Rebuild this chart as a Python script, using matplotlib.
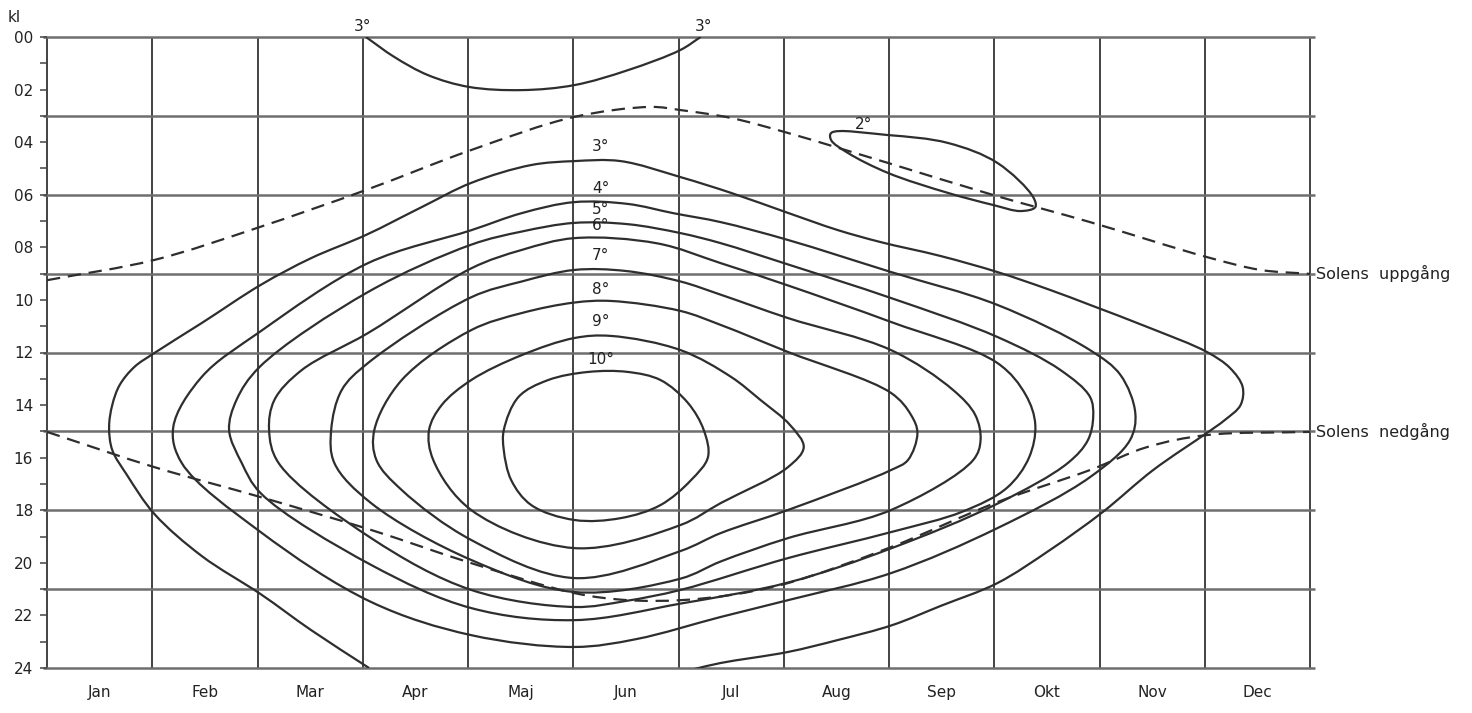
import numpy as np
import matplotlib.pyplot as plt
from matplotlib.path import Path
from matplotlib.patches import PathPatch

# month index (0 = start of Jan, 12 = end of Dec) and hour of day (0-24)
months = ['Jan', 'Feb', 'Mar', 'Apr', 'Maj', 'Jun', 'Jul', 'Aug', 'Sep', 'Okt', 'Nov', 'Dec']
hour_labels = ['00', '02', '04', '06', '08', '10', '12', '14', '16', '18', '20', '22', '24']

# isotherms, (month, hour) pairs
iso_3_outer = [(3.06, 24.0), (2.51, 22.56), (2.03, 21.19), (1.47, 19.74), (1.02, 18.14), (0.76, 16.66),
               (0.62, 15.71), (0.59, 14.83), (0.62, 14.0), (0.69, 13.24), (0.83, 12.55), (1.02, 12.02),
               (1.47, 10.88), (2.03, 9.43), (2.51, 8.41), (3.03, 7.53), (3.56, 6.47), (4.03, 5.55),
               (4.60, 4.87), (5.01, 4.72), (5.45, 4.72), (6.02, 5.33), (6.50, 5.93), (7.04, 6.69),
               (7.51, 7.34), (7.92, 7.80), (8.49, 8.33), (9.03, 8.94), (9.53, 9.62), (9.91, 10.19),
               (10.48, 11.07), (11.02, 11.98), (11.24, 12.59), (11.36, 13.31), (11.34, 14.0),
               (11.19, 14.57), (11.02, 15.06), (10.51, 16.47), (10.03, 18.07), (9.53, 19.51),
               (9.03, 20.77), (8.49, 21.64), (8.03, 22.37), (7.51, 22.94), (7.04, 23.39),
               (6.40, 23.81), (6.15, 24.04)]
iso_3_top = [(3.03, 0.0), (3.30, 0.76), (3.62, 1.45), (4.01, 1.90), (4.51, 2.02), (5.01, 1.83),
             (5.52, 1.26), (6.02, 0.49), (6.21, 0.0)]
iso_2 = [(7.45, 3.65), (7.99, 3.73), (8.56, 4.03), (9.03, 4.79), (9.37, 6.09), (9.39, 6.47),
         (9.25, 6.62), (8.99, 6.39), (8.56, 5.93), (7.99, 5.17), (7.61, 4.41), (7.45, 3.92)]
iso_4 = [(5.01, 6.28), (4.51, 6.70), (4.03, 7.35), (3.05, 8.60), (2.02, 11.22), (1.47, 12.93),
         (1.20, 14.83), (1.28, 16.20), (2.03, 18.83), (3.08, 21.49), (4.03, 22.75), (5.01, 23.2),
         (5.60, 22.90), (6.40, 22.06), (7.04, 21.42), (8.02, 20.39), (9.03, 18.68), (9.91, 16.74),
         (10.29, 15.33), (10.34, 14.30), (10.20, 12.86), (9.91, 11.91), (9.03, 10.19), (8.02, 8.94),
         (7.04, 7.72), (6.40, 7.04), (5.95, 6.70), (5.52, 6.35)]
iso_5 = [(5.01, 7.07), (4.51, 7.40), (4.03, 7.90), (3.05, 9.70), (2.02, 12.55), (1.80, 13.81),
         (1.73, 14.95), (1.85, 16.20), (2.03, 17.35), (3.08, 20.08), (4.03, 21.72), (5.01, 22.18),
         (6.02, 21.55), (7.04, 20.75), (8.02, 19.45), (9.03, 17.75), (9.70, 16.2),
         (9.89, 15.33), (9.94, 14.45), (9.91, 13.69), (9.63, 12.67), (9.03, 11.41), (8.02, 9.93),
         (7.04, 8.65), (6.40, 7.84), (6.02, 7.46), (5.52, 7.12)]
iso_6 = [(5.01, 7.65), (4.51, 8.10), (4.03, 8.80), (3.05, 11.26), (2.42, 12.67), (2.16, 13.81),
         (2.11, 14.95), (2.20, 16.20), (3.08, 19.06), (4.03, 21.03), (5.01, 21.68), (5.50, 21.45),
         (6.02, 21.03), (7.04, 19.82), (8.02, 18.83), (8.70, 18.05), (9.12, 17.15), (9.33, 16.00),
         (9.39, 14.75), (9.30, 13.62), (9.03, 12.40), (8.02, 10.84), (7.04, 9.45), (6.40, 8.60),
         (5.80, 7.85)]
iso_7 = [(5.01, 8.86), (4.51, 9.30), (4.03, 9.90), (3.05, 12.40), (2.80, 13.43), (2.70, 14.95),
         (2.73, 16.20), (3.08, 17.73), (4.03, 19.89), (5.01, 21.11), (6.02, 20.60), (6.40, 19.95),
         (7.04, 19.06), (8.02, 17.99), (8.80, 16.09), (8.87, 15.33), (8.82, 14.38), (8.61, 13.43),
         (8.02, 11.91), (7.04, 10.69), (6.40, 9.80), (6.02, 9.30), (5.50, 8.90)]
iso_8 = [(5.01, 10.10), (4.51, 10.50), (4.03, 11.15), (3.37, 13.05), (3.11, 14.95), (3.13, 16.09),
         (3.37, 17.23), (4.03, 19.13), (5.01, 20.58), (6.02, 19.55), (6.40, 18.87), (7.04, 17.99),
         (8.02, 16.47), (8.18, 16.09), (8.27, 15.06), (8.21, 14.38), (8.02, 13.54), (7.04, 11.98),
         (6.40, 10.95), (6.02, 10.42), (5.36, 10.04)]
iso_9 = [(5.01, 11.45), (4.51, 12.10), (4.03, 13.05), (3.75, 14.0), (3.63, 14.95), (3.67, 16.09),
         (4.03, 17.99), (5.01, 19.44), (6.02, 18.56), (6.40, 17.73), (7.04, 16.36), (7.19, 15.60),
         (7.06, 14.76), (6.78, 13.81), (6.50, 12.93), (6.02, 11.91), (5.36, 11.37)]
iso_10 = [(5.14, 12.74), (4.76, 13.05), (4.48, 13.69), (4.34, 14.95), (4.34, 15.71), (4.41, 16.85),
          (4.60, 17.80), (5.01, 18.37), (5.45, 18.30), (5.83, 17.80), (6.12, 16.85), (6.28, 15.98),
          (6.24, 14.95), (6.09, 13.92), (5.83, 13.05), (5.52, 12.74)]

# sunrise / sunset
sunrise = [(0.0, 9.25), (1.02, 8.48), (2.02, 7.23), (3.03, 5.82), (4.03, 4.30), (5.01, 3.04),
           (5.74, 2.66), (6.02, 2.78), (6.50, 3.08), (7.04, 3.65), (7.99, 4.79), (8.99, 6.01),
           (9.91, 7.04), (11.02, 8.37), (11.53, 8.86), (12.0, 9.01)]
sunset = [(0.0, 15.02), (1.02, 16.36), (2.03, 17.50), (3.08, 18.75), (4.03, 20.01), (5.01, 21.15),
          (5.52, 21.42), (6.02, 21.42), (6.50, 21.22), (7.04, 20.77), (8.02, 19.40), (9.03, 17.69),
          (9.91, 16.47), (10.45, 15.60), (11.02, 15.14), (12.0, 15.02)]

# label positions for the isotherm values
iso_labels = ['3°', '4°', '5°', '6°', '7°', '8°', '9°', '10°']
iso_label_hours = [4.45, 6.05, 6.85, 7.45, 8.6, 9.9, 11.1, 12.55]

PX_MONTH, PX_HOUR = 105.25, 26.3


def smooth_path(pts, closed=False):
    """Centripetal Catmull-Rom curve through the points, as cubic Bezier segments."""
    p = np.asarray(pts, float)
    if closed:
        ext = np.vstack([p[-1:], p, p[:2]])
    else:
        ext = np.vstack([2 * p[0] - p[1], p, 2 * p[-1] - p[-2]])
    scale = np.array([PX_MONTH, PX_HOUR])
    verts, codes = [ext[1]], [Path.MOVETO]
    for i in range(1, len(ext) - 2):
        p0, p1, p2, p3 = ext[i - 1], ext[i], ext[i + 1], ext[i + 2]
        d1, d2, d3 = (np.linalg.norm((b - a) * scale) ** 0.5 for a, b in [(p0, p1), (p1, p2), (p2, p3)])
        b1 = (d1 ** 2 * p2 - d2 ** 2 * p0 + (2 * d1 ** 2 + 3 * d1 * d2 + d2 ** 2) * p1) / (3 * d1 * (d1 + d2))
        b2 = (d3 ** 2 * p1 - d2 ** 2 * p3 + (2 * d3 ** 2 + 3 * d3 * d2 + d2 ** 2) * p2) / (3 * d3 * (d3 + d2))
        verts += [b1, b2, p2]
        codes += [Path.CURVE4] * 3
    return Path(verts, codes)


ink = '#2e2e2e'
txt = '#222222'
fig = plt.figure(figsize=(14.72, 7.13), dpi=100)
ax = fig.add_axes([47 / 1472, 1 - 668 / 713, 1263 / 1472, 631 / 713])
ax.set_xlim(0, 12)
ax.set_ylim(24, 0)
for s in ax.spines.values():
    s.set_visible(False)

# grid: month borders and every third hour
ax.vlines(np.arange(0, 13), 0, 24, color='#222222', lw=1.2, zorder=1, clip_on=False)
ax.hlines(np.arange(0, 25, 3), -0.04, 12.05, color='#6e6e6e', lw=1.8, zorder=1, clip_on=False)

ax.set_yticks(np.arange(0, 25, 2))
ax.set_yticklabels(hour_labels)
ax.set_yticks(np.arange(1, 25, 2), minor=True)
ax.tick_params(axis='y', which='both', direction='out', length=5, width=1.1, color='#444444',
               labelsize=11, pad=5, labelcolor=txt)
ax.set_xticks(np.arange(12) + 0.5)
ax.set_xticklabels(months)
ax.tick_params(axis='x', length=0, labelsize=11, pad=12, labelcolor=txt)

# isotherms
for pts in [iso_3_outer, iso_3_top]:
    ax.add_patch(PathPatch(smooth_path(pts), fill=False, ec=ink, lw=1.6, zorder=3))
for pts in [iso_2, iso_4, iso_5, iso_6, iso_7, iso_8, iso_9, iso_10]:
    ax.add_patch(PathPatch(smooth_path(pts, closed=True), fill=False, ec=ink, lw=1.6, zorder=3))

# sunrise and sunset
for pts in [sunrise, sunset]:
    ax.add_patch(PathPatch(smooth_path(pts), fill=False, ec=ink, lw=1.6, ls=(0, (6, 3.5)), zorder=3))

for lab, h in zip(iso_labels, iso_label_hours):
    ax.text(5.26, h, lab, ha='center', va='bottom', fontsize=11, color=txt, zorder=4)
ax.text(iso_3_top[0][0] - 0.03, -0.12, '3°', ha='center', va='bottom', fontsize=11, color=txt, clip_on=False)
ax.text(iso_3_top[-1][0] + 0.03, -0.12, '3°', ha='center', va='bottom', fontsize=11, color=txt, clip_on=False)
ax.text(7.76, 3.6, '2°', ha='center', va='bottom', fontsize=11, color=txt)

ax.text(12.06, sunrise[-1][1], 'Solens  uppgång', ha='left', va='center', fontsize=11.5, color=txt, clip_on=False)
ax.text(12.06, sunset[-1][1], 'Solens  nedgång', ha='left', va='center', fontsize=11.5, color=txt, clip_on=False)
fig.text(8 / 1472, 1 - 18 / 713, 'kl', ha='left', va='center', fontsize=11, color=txt)

fig.savefig('out.png', dpi=100, facecolor='white')
